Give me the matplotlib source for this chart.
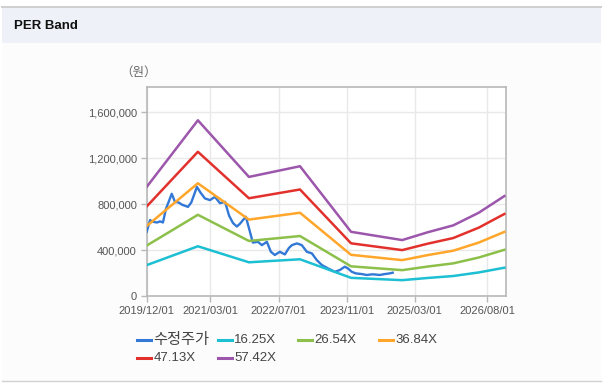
import pandas as pd
import matplotlib.pyplot as plt
import matplotlib.dates as mdates
from matplotlib.patches import Rectangle
from matplotlib.lines import Line2D
from matplotlib.ticker import FuncFormatter

plt.rcParams['font.family'] = ['Liberation Sans', 'Noto Sans CJK KR', 'DejaVu Sans']

# adjusted share price (수정주가)
price_dates = [
    '2019-12-01', '2019-12-25', '2020-01-15', '2020-02-13', '2020-03-05', '2020-03-26',
    '2020-04-17', '2020-05-28', '2020-06-20', '2020-07-15', '2020-08-10', '2020-09-21',
    '2020-10-15', '2020-11-24', '2020-12-20', '2021-01-20', '2021-02-25', '2021-04-02',
    '2021-05-08', '2021-06-13', '2021-07-12', '2021-08-09', '2021-09-06', '2021-09-30',
    '2021-10-19', '2021-11-09', '2021-12-08', '2021-12-29', '2022-02-03', '2022-03-04',
    '2022-04-08', '2022-05-07', '2022-06-04', '2022-07-10', '2022-08-15', '2022-09-12',
    '2022-10-04', '2022-11-09', '2022-12-14', '2023-01-19', '2023-02-24', '2023-03-31',
    '2023-05-06', '2023-06-18', '2023-08-07', '2023-09-12', '2023-10-17', '2023-11-08',
    '2023-12-06', '2024-01-04', '2024-02-16', '2024-03-22', '2024-05-04', '2024-06-23',
    '2024-07-29', '2024-09-03', '2024-09-24',
]
price_values = [
    559000, 661000, 646000, 640000, 650000, 640000,
    760000, 890000, 820000, 815000, 795000, 776000,
    815000, 950000, 900000, 850000, 835000, 863000,
    808000, 820000, 700000, 635000, 605000, 632000,
    661000, 690000, 560000, 465000, 472000, 443000,
    472000, 385000, 357000, 385000, 362000, 417000,
    443000, 458000, 443000, 385000, 371000, 313000,
    270000, 241000, 211000, 226000, 255000, 241000,
    211000, 197000, 191000, 183000, 189000, 183000,
    191000, 197000, 203000,
]

# EPS path behind the PER band lines
band_dates = ['2019-12-01', '2020-12-01', '2021-12-01', '2022-12-01', '2023-12-01',
              '2024-12-01', '2025-06-01', '2025-12-01', '2026-06-01', '2026-12-01']
eps_values = [16545, 26646, 18060, 19680, 9735, 8481, 9666, 10711, 12626, 15152]

multiples = [16.25, 26.54, 36.84, 47.13, 57.42]
band_labels = ['16.25X', '26.54X', '36.84X', '47.13X', '57.42X']
band_colors = ['#1dbfd3', '#8cc04a', '#ffa62b', '#e2312c', '#9c56ab']
price_color = '#3278d6'

W, H = 615, 391
fig = plt.figure(figsize=(W / 100, H / 100), dpi=100)
fig.patch.set_facecolor('white')


def fx(px):
    return px / W


def fy(py):
    return 1 - py / H


# panel background, header strip and borders
fig.add_artist(Rectangle((fx(2), fy(381)), fx(599), (381 - 7) / H,
                         transform=fig.transFigure, facecolor='#fcfcfd', edgecolor='none', zorder=0))
fig.add_artist(Rectangle((fx(2), fy(43)), fx(599), 36 / H,
                         transform=fig.transFigure, facecolor='#eef2f8', edgecolor='none', zorder=0))
fig.add_artist(Line2D([fx(2), fx(601)], [fy(7), fy(7)], transform=fig.transFigure,
                      color='#cfcfcf', lw=1.4))
fig.add_artist(Line2D([fx(2), fx(601)], [fy(381), fy(381)], transform=fig.transFigure,
                      color='#d2d2d2', lw=1.0))
fig.text(fx(14), fy(26), 'PER Band', fontsize=9.5, fontweight='bold', color='#111111',
         va='center', ha='left')

ax = fig.add_axes([fx(146.7), fy(296), fx(506 - 146.7), (296 - 87) / H])
ax.set_facecolor('white')

pdates = pd.to_datetime(price_dates)
bdates = pd.to_datetime(band_dates)

ax.plot(pdates, price_values, color=price_color, lw=1.7, zorder=3)
for m, c in zip(multiples, band_colors):
    ax.plot(bdates, [e * m for e in eps_values], color=c, lw=1.8, zorder=3)

ax.set_xlim(pd.Timestamp('2019-12-01'), pd.Timestamp('2026-12-13'))
ax.set_ylim(0, 1820000)

xticks = pd.to_datetime(['2019-12-01', '2021-03-01', '2022-07-01', '2023-11-01',
                         '2025-03-01', '2026-08-01'])
ax.set_xticks(xticks)
ax.xaxis.set_major_formatter(mdates.DateFormatter('%Y/%m/%d'))
ax.set_yticks([0, 400000, 800000, 1200000, 1600000])
ax.yaxis.set_major_formatter(FuncFormatter(lambda v, p: f'{int(v):,}'))

ax.grid(True, color='#e9e9e9', lw=1.0, zorder=0)
ax.set_axisbelow(True)
for s in ax.spines.values():
    s.set_color('#b8b8b8')
    s.set_linewidth(1.2)
ax.tick_params(axis='both', colors='#b8b8b8', labelcolor='#555555', labelsize=8,
               length=4, width=1.0, pad=3)

fig.text(fx(139), fy(73), '（원）', fontsize=9, color='#666666', ha='center', va='center')

# legend drawn by hand so the columns stay evenly spaced
legend_labels = ['수정주가'] + band_labels
legend_colors = [price_color] + band_colors
col_x = [136.7, 217.7, 298.3, 378.7]
row_y = [340, 358]
for i, (lab, c) in enumerate(zip(legend_labels, legend_colors)):
    x0 = col_x[i % 4]
    y0 = row_y[i // 4]
    fig.add_artist(Line2D([fx(x0), fx(x0 + 14)], [fy(y0), fy(y0)], transform=fig.transFigure,
                          color=c, lw=2.2))
    fs = 11 if i == 0 else 9.5
    fig.text(fx(x0 + 16.5), fy(y0), lab, fontsize=fs, color='#444444', ha='left', va='center')

fig.savefig('out.png', dpi=100)
